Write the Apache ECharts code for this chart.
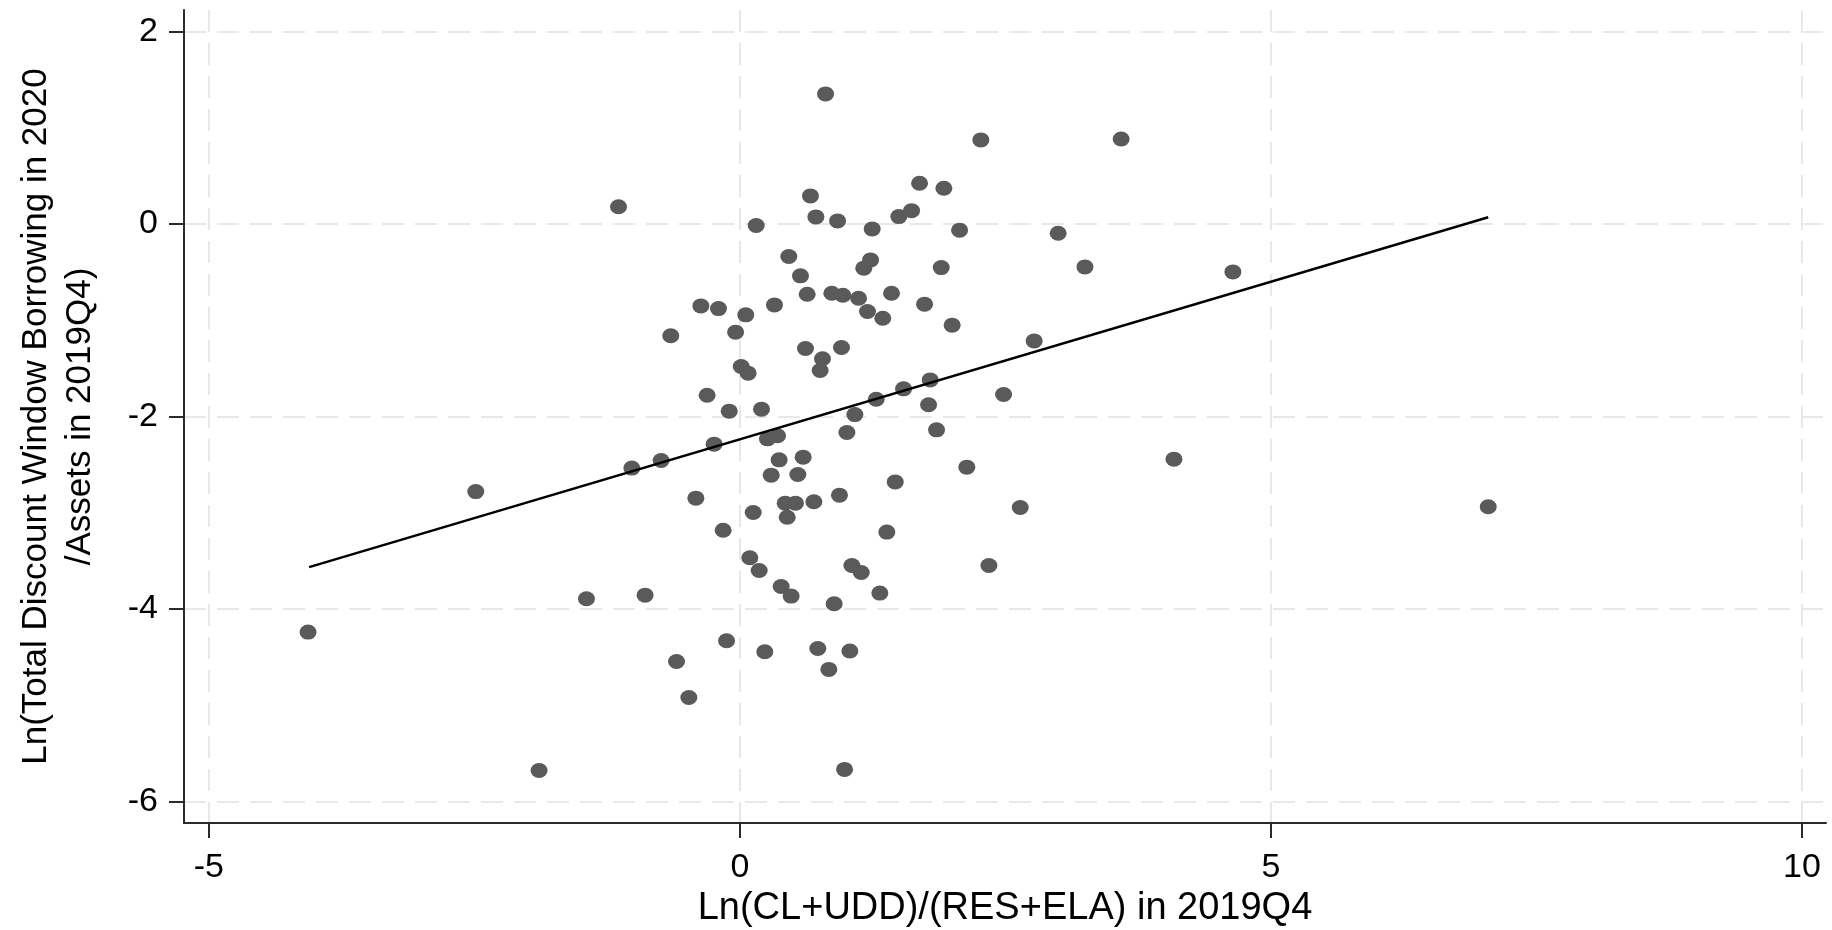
<!DOCTYPE html>
<html>
<head>
<meta charset="utf-8">
<script src="https://cdn.jsdelivr.net/npm/echarts@6/dist/echarts.min.js"></script>
<style>
html,body{margin:0;padding:0;background:#fff;}
#chart{width:1832px;height:930px;}
</style>
</head>
<body>
<div id="chart"></div>
<script>
// x values: Ln(CL+UDD)/(RES+ELA) in 2019Q4
var xValues = [0.807,2.269,3.59,-1.142,1.692,1.921,0.665,0.716,0.92,1.497,
  1.617,1.246,2.069,0.154,2.997,0.461,0.571,1.231,1.167,1.896,
  3.249,4.642,0.634,0.866,0.97,1.118,1.428,1.739,1.202,1.346,
  1.999,-0.367,-0.201,0.056,0.326,-0.04,-0.65,0.618,0.957,0.778,
  0.756,0.013,0.078,2.771,-0.308,-0.1,0.204,1.083,1.284,1.541,
  1.792,1.777,2.483,1.008,1.852,-0.242,-0.741,-1.017,0.26,0.355,
  0.37,0.596,0.295,0.546,2.137,1.463,-2.486,-0.414,0.427,0.524,
  0.697,0.938,0.126,0.446,-0.157,1.384,2.64,4.087,7.046,0.094,
  0.182,1.055,1.143,2.345,0.389,0.483,0.888,1.318,-1.444,-0.892,
  -4.065,-0.125,-0.596,0.235,0.734,1.036,0.838,-0.48,-1.89,0.986];
// y values: Ln(Total Discount Window Borrowing in 2020 / Assets in 2019Q4)
var yValues = [1.353,0.875,0.885,0.18,0.425,0.373,0.293,0.075,0.033,0.078,
  0.14,-0.05,-0.063,-0.015,-0.095,-0.337,-0.538,-0.372,-0.458,-0.452,
  -0.445,-0.497,-0.729,-0.718,-0.739,-0.77,-0.718,-0.832,-0.909,-0.978,
  -1.05,-0.85,-0.878,-0.943,-0.84,-1.123,-1.16,-1.293,-1.283,-1.4,
  -1.522,-1.48,-1.549,-1.214,-1.778,-1.944,-1.923,-1.98,-1.82,-1.712,
  -1.619,-1.878,-1.771,-2.166,-2.138,-2.287,-2.457,-2.536,-2.232,-2.2,
  -2.45,-2.422,-2.609,-2.602,-2.526,-2.679,-2.78,-2.848,-2.9,-2.9,
  -2.886,-2.817,-2.997,-3.046,-3.181,-3.201,-2.945,-2.443,-2.938,-3.468,
  -3.6,-3.548,-3.621,-3.548,-3.766,-3.866,-3.946,-3.835,-3.894,-3.856,
  -4.24,-4.33,-4.545,-4.445,-4.41,-4.437,-4.628,-4.92,-5.678,-5.667];
// fitted line end points
var fitX = [-4.055, 7.046];
var fitY = [-3.565, 0.071];
// ticks
var xTicks = [-5, 0, 5, 10];
var yTicks = [-6, -4, -2, 0, 2];

var scatterData = xValues.map(function (x, i) { return [x, yValues[i]]; });
var lineData = fitX.map(function (x, i) { return [x, fitY[i]]; });

var chart = echarts.init(document.getElementById('chart'), null, {renderer: 'canvas'});
var axisCol = '#2b2b2b';
var gridLine = {show: true, lineStyle: {color: '#e8e8e8', width: 2, type: [22, 11]}};
chart.setOption({
  animation: false,
  backgroundColor: '#ffffff',
  grid: {left: 184, right: 6, top: 10, bottom: 107, containLabel: false, outerBoundsMode: 'none'},
  xAxis: {
    type: 'value', min: -5.233, max: 10.226,
    name: 'Ln(CL+UDD)/(RES+ELA) in 2019Q4',
    nameLocation: 'middle', nameGap: 66,
    nameTextStyle: {fontFamily: 'Liberation Sans', fontSize: 38, color: '#000'},
    axisLine: {show: true, onZero: false, lineStyle: {color: axisCol, width: 2}},
    axisTick: {show: true, length: 15, customValues: xTicks, lineStyle: {color: axisCol, width: 2}},
    axisLabel: {customValues: xTicks, margin: 28, fontFamily: 'Liberation Sans', fontSize: 34, color: '#000'},
    splitLine: gridLine
  },
  yAxis: {
    type: 'value', min: -6.224, max: 2.225,
    name: 'Ln(Total Discount Window Borrowing in 2020\n/Assets in 2019Q4)',
    nameLocation: 'middle', nameGap: 82,
    nameTextStyle: {fontFamily: 'Liberation Sans', fontSize: 35, color: '#000', lineHeight: 44},
    axisLine: {show: true, onZero: false, lineStyle: {color: axisCol, width: 2}},
    axisTick: {show: true, length: 15, customValues: yTicks, lineStyle: {color: axisCol, width: 2}},
    axisLabel: {customValues: yTicks, margin: 26, fontFamily: 'Liberation Sans', fontSize: 34, color: '#000'},
    splitLine: gridLine
  },
  series: [
    {
      type: 'scatter', data: scatterData, symbol: 'circle', symbolSize: [17, 15],
      itemStyle: {color: '#5a5a5a', opacity: 1}, z: 2
    },
    {
      type: 'line', data: lineData, showSymbol: false, symbol: 'none',
      lineStyle: {color: '#000', width: 2.5}, z: 3
    }
  ]
});
</script>
</body>
</html>
